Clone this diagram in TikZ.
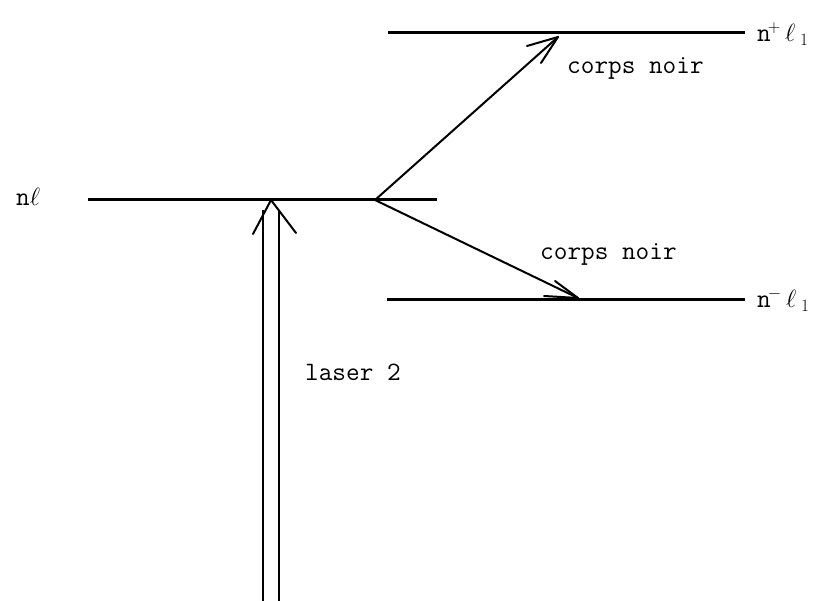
\documentclass[tikz,border=0pt]{standalone}
\usetikzlibrary{calc}
\begin{document}
\begin{tikzpicture}[x=1pt,y=-1pt,
  level/.style={line width=3pt},
  trans/.style={line width=2pt},
  lbl/.style={font=\ttfamily\fontsize{26.5}{28}\selectfont, inner sep=0pt},
  openhead/.style={line width=2pt, line cap=round, line join=round}]
\useasboundingbox (0,0) rectangle (822,601);
% energy levels
\coordinate (nlA) at (88,200);
\coordinate (nlB) at (437,200);
\coordinate (upA) at (388,33);
\coordinate (upB) at (745,33);
\coordinate (loA) at (387,300);
\coordinate (loB) at (745,300);
\draw[level] (nlA) -- (nlB);
\draw[level] (upA) -- (upB);
\draw[level] (loA) -- (loB);
% level labels
\node[lbl, anchor=base west] (nl) at (16,206) {n$\ell$};
\node[lbl, anchor=base west] (np) at (757,42) {n$^{\!+}\,\ell_{\;1}$};
\node[lbl, anchor=base west] (nm) at (757,308) {n$^{\!-}\,\ell_{\;1}$};
% laser excitation (double line, open head)
\coordinate (lsrL) at (263,601);
\coordinate (lsrR) at (279,601);
\coordinate (lsrLt) at (263,210);
\coordinate (lsrRt) at (279,210);
\coordinate (tip) at (271,200);
\coordinate (wl) at (253,234);
\coordinate (wr) at (296,233);
\draw[trans] (lsrL) -- (lsrLt);
\draw[trans] (lsrR) -- (lsrRt);
\draw[openhead] (wl) -- (tip) -- (wr);
\node[lbl, anchor=base west] (laser) at (305,381) {laser 2};
% black-body transitions
\coordinate (src) at (375,200);
\coordinate (tup) at (558,37);
\coordinate (tdn) at (578,298);
\draw[trans] (src) -- (tup);
\draw[trans] (src) -- (tdn);
\draw[openhead] ($(tup)+(-31,9)$) -- (tup) -- ($(tup)+(-17,26)$);
\draw[openhead] ($(tdn)+(-34,-2)$) -- (tdn) -- ($(tdn)+(-23,-17)$);
\node[lbl, anchor=base west] (cn1) at (567,74) {corps noir};
\node[lbl, anchor=base west] (cn2) at (540,260) {corps noir};
\end{tikzpicture}
\end{document}
